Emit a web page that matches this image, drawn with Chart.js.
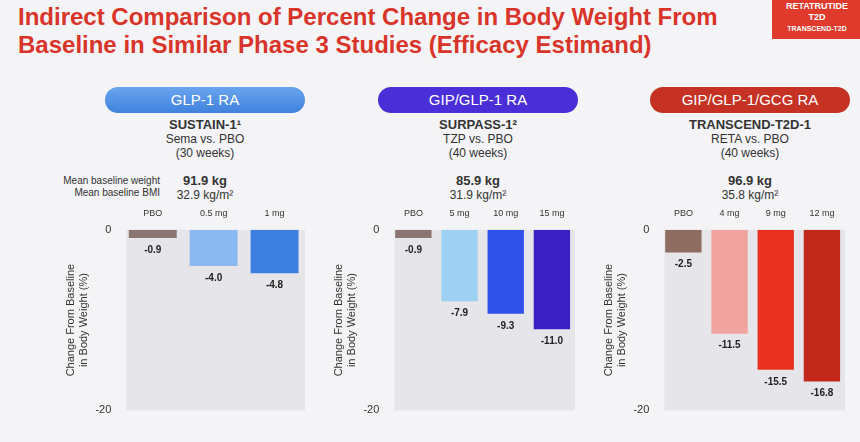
<!DOCTYPE html>
<html><head><meta charset="utf-8">
<script src="https://cdn.jsdelivr.net/npm/chart.js@4"></script>
<style>
body{margin:0;width:860px;height:442px;background:#f4f4f6;font-family:"Liberation Sans",Arial,sans-serif;position:relative;overflow:hidden}
.title{position:absolute;left:18px;top:3px;color:#d8342a;font-weight:bold;font-size:24px;line-height:28px}
.badge{position:absolute;left:772px;top:0;width:90px;height:38px;background:#e03a2c;color:#fff;font-size:9px;font-weight:bold;text-align:center;line-height:11px;padding-top:1px}
.pill{position:absolute;top:87px;width:200px;height:26px;border-radius:13px;color:#fff;font-size:15px;text-align:center;line-height:26px}
.hd{position:absolute;top:118px;width:200px;text-align:center;font-size:12px;color:#333;line-height:14px}
.hd b{font-size:13px}
.lab{position:absolute;left:10px;top:175px;width:150px;text-align:right;font-size:10px;color:#333;line-height:12px}
.box{position:absolute;top:205px;height:215px}
</style></head><body>
<div class="title">Indirect Comparison of Percent Change in Body Weight From<br>Baseline in Similar Phase 3 Studies (Efficacy Estimand)</div>
<div class="badge">RETATRUTIDE<br>T2D<br><span style="font-size:7px">TRANSCEND-T2D</span></div>
<div class="pill" style="left:105px;background:linear-gradient(#6aa4ee,#3f82de)">GLP-1 RA</div>
<div class="pill" style="left:378px;background:#4a2ed8">GIP/GLP-1 RA</div>
<div class="pill" style="left:650px;background:#c53224">GIP/GLP-1/GCG RA</div>
<div class="hd" style="left:105px"><b>SUSTAIN-1¹</b><br>Sema vs. PBO<br>(30 weeks)<br><br><b>91.9 kg</b><br>32.9 kg/m²</div>
<div class="hd" style="left:378px"><b>SURPASS-1²</b><br>TZP vs. PBO<br>(40 weeks)<br><br><b>85.9 kg</b><br>31.9 kg/m²</div>
<div class="hd" style="left:650px"><b>TRANSCEND-T2D-1</b><br>RETA vs. PBO<br>(40 weeks)<br><br><b>96.9 kg</b><br>35.8 kg/m²</div>
<div class="lab">Mean baseline weight<br>Mean baseline BMI</div>
<div class="box" style="left:62px;width:243px"><canvas id="c1"></canvas></div>
<div class="box" style="left:330px;width:245px"><canvas id="c2"></canvas></div>
<div class="box" style="left:600px;width:245px"><canvas id="c3"></canvas></div>
<script>
// chart data
const doses1 = ['PBO', '0.5 mg', '1 mg'];
const values1 = [-0.9, -4.0, -4.8];
const colors1 = ['#8a7570', '#8bb8ee', '#3d7fe0'];
const doses2 = ['PBO', '5 mg', '10 mg', '15 mg'];
const values2 = [-0.9, -7.9, -9.3, -11.0];
const colors2 = ['#8a7570', '#9fd2f2', '#2f52ea', '#3a1fc4'];
const doses3 = ['PBO', '4 mg', '9 mg', '12 mg'];
const values3 = [-2.5, -11.5, -15.5, -16.8];
const colors3 = ['#8e6c62', '#f2a3a0', '#e8321f', '#c3291a'];
const yTicks = [0, -20];

// gray plot background + value labels under the bars
const panelPlugin = {
    id: 'panel',
    beforeDatasetsDraw(chart) {
        const a = chart.chartArea, ctx = chart.ctx;
        ctx.save();
        ctx.fillStyle = '#e6e6ea';
        ctx.fillRect(a.left + 4, a.top, a.right - a.left - 4, a.bottom - a.top);
        ctx.restore();
    },
    afterDatasetsDraw(chart) {
        const ctx = chart.ctx;
        ctx.save();
        ctx.font = 'bold 10px "Liberation Sans", Arial';
        ctx.fillStyle = '#222';
        ctx.textAlign = 'center';
        ctx.textBaseline = 'top';
        chart.getDatasetMeta(0).data.forEach((bar, i) => {
            const v = chart.data.datasets[0].data[i];
            ctx.fillText(v.toFixed(1), bar.x, bar.y + 7);
        });
        ctx.restore();
    }
};

function makeChart(id, labels, values, colors) {
    new Chart(document.getElementById(id), {
        type: 'bar',
        data: {
            labels: labels,
            datasets: [{ data: values, backgroundColor: colors, barPercentage: 0.82, categoryPercentage: 0.96 }]
        },
        options: {
            responsive: true,
            maintainAspectRatio: false,
            animation: false,
            layout: { padding: { bottom: 6 } },
            plugins: { legend: { display: false }, tooltip: { enabled: false } },
            scales: {
                x: {
                    position: 'top',
                    grid: { display: false },
                    border: { display: false },
                    ticks: { color: '#333', font: { size: 9 } }
                },
                y: {
                    min: -20, max: 0,
                    afterBuildTicks: ax => { ax.ticks = yTicks.map(v => ({ value: v })); },
                    grid: { display: false },
                    border: { display: false },
                    ticks: { color: '#333', font: { size: 11 } },
                    title: { display: true, text: ['Change From Baseline', 'in Body Weight (%)'], color: '#333', font: { size: 11 }, padding: 2 }
                }
            }
        },
        plugins: [panelPlugin]
    });
}

makeChart('c1', doses1, values1, colors1);
makeChart('c2', doses2, values2, colors2);
makeChart('c3', doses3, values3, colors3);
</script>
</body></html>
